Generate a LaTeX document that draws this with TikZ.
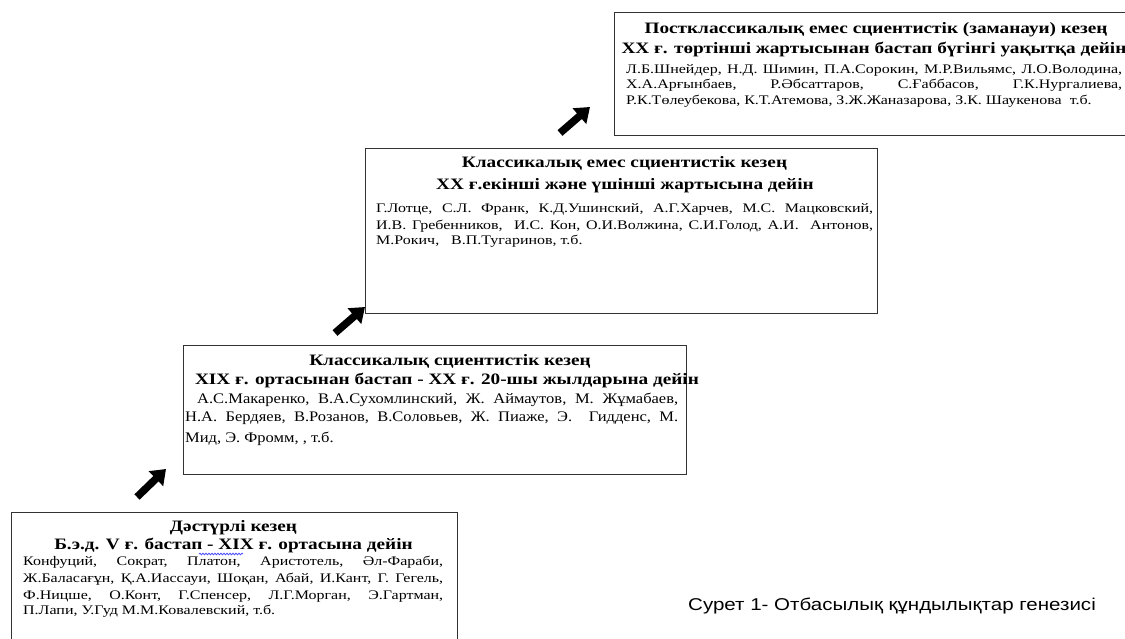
\documentclass[tikz,border=0pt]{standalone}
\usepackage{fontspec}
\usetikzlibrary{arrows.meta,decorations.pathmorphing}
\setmainfont{Liberation Serif}
\newfontfamily\tfont[FakeStretch=1.21]{Liberation Serif}
\newfontfamily\bfont[FakeStretch=1.22]{Liberation Serif}
\newfontfamily\sfont[FakeStretch=1.13]{Liberation Serif}
\newfontfamily\cfont[FakeStretch=1.2]{Liberation Sans}
\newcommand\jl[2]{\hbox to #1pt{#2}}
\begin{document}
\begin{tikzpicture}[x=1pt,y=-1pt,
  box/.style={draw=black!80, line width=1.4pt, inner sep=0pt, anchor=north west},
  ttl/.style={font=\tfont\bfseries\fontsize{15.9}{18}\selectfont, anchor=base, inner sep=0pt},
  bd/.style={font=\bfont\frenchspacing\fontsize{13.1}{15}\selectfont, anchor=base west, inner sep=0pt},
  bdl/.style={font=\sfont\frenchspacing\fontsize{14.6}{16}\selectfont, anchor=base west, inner sep=0pt},
  blk/.style={line width=7.5pt, -{Triangle[length=14pt,width=20pt]}},
  capt/.style={font=\cfont\fontsize{17.1}{20}\selectfont, anchor=base west, inner sep=0pt}]
\useasboundingbox (0,0) rectangle (1125,639);
% boxes
\node[box, minimum width=520pt, minimum height=123pt] (B1) at (614,12) {};
\node[box, minimum width=512pt, minimum height=165pt] (B2) at (365,148) {};
\node[box, minimum width=503pt, minimum height=129pt] (B3) at (183,345) {};
\node[box, minimum width=446pt, minimum height=135pt] (B4) at (11,512) {};
% box 1
\node[ttl] (t11) at (876,34) {Постклассикалық емес сциентистік (заманауи) кезең};
\node[ttl] (t12) at (874,54) {XX ғ. төртінші жартысынан бастап бүгінгі уақытқа дейін};
\node[bd] (p11) at (626,74) {\jl{496}{Л.Б.Шнейдер, Н.Д. Шимин, П.А.Сорокин, М.Р.Вильямс, Л.О.Володина,}};
\node[bd] (p12) at (626,89) {\jl{496}{Х.А.Арғынбаев, Р.Әбсаттаров, С.Ғаббасов, Г.К.Нургалиева,}};
\node[bd] (p13) at (626,105) {Р.К.Төлеубекова, К.Т.Атемова, З.Ж.Жаназарова, З.К. Шаукенова\ \ т.б.};
% box 2
\node[ttl] (t21) at (624.5,168) {Классикалық емес сциентистік кезең};
\node[ttl] (t22) at (625,190) {XX ғ.екінші және үшінші жартысына дейін};
\node[bd] (p21) at (376,213) {\jl{497}{Г.Лотце, С.Л. Франк, К.Д.Ушинский, А.Г.Харчев, М.С. Мацковский,}};
\node[bd] (p22) at (376,230) {\jl{497}{И.В. Гребенников,\ \ И.С. Кон, О.И.Волжина, С.И.Голод, А.И.\ \ Антонов,}};
\node[bd] (p23) at (376,245) {М.Рокич,\ \ \ В.П.Тугаринов, т.б.};
% box 3
\node[ttl] (t31) at (450,365) {Классикалық сциентистік кезең};
\node[ttl] (t32) at (447,384) {XIX ғ. ортасынан бастап - XX ғ. 20-шы жылдарына дейін};
\node[bdl] (p31) at (197,403) {\jl{481}{А.С.Макаренко, В.А.Сухомлинский, Ж. Аймаутов, М. Жұмабаев,}};
\node[bdl] (p32) at (185,421) {\jl{493}{Н.А. Бердяев, В.Розанов, В.Соловьев, Ж. Пиаже, Э.\ \ Гидденс, М.}};
\node[bdl] (p33) at (185,442) {Мид, Э. Фромм, , т.б.};
% box 4
\node[ttl] (t41) at (233.5,531) {Дәстүрлі кезең};
\node[ttl] (t42) at (233.5,549) {Б.э.д. V ғ. бастап - XIX ғ. ортасына дейін};
\node[bd] (p41) at (23,565) {\jl{420}{Конфуций, Сократ, Платон, Аристотель, Әл-Фараби,}};
\node[bd] (p42) at (23,582) {\jl{420}{Ж.Баласағұн, Қ.А.Иассауи, Шоқан, Абай, И.Кант, Г. Гегель,}};
\node[bd] (p43) at (23,599) {\jl{420}{Ф.Ницше, О.Конт, Г.Спенсер, Л.Г.Морган, Э.Гартман,}};
\node[bd] (p44) at (23,614) {П.Лапи, У.Гуд М.М.Ковалевский, т.б.};
\coordinate (w1) at (199,554);
\coordinate (w2) at (243,554);
\draw[blue!70, line width=0.8pt, decorate, decoration={snake, amplitude=0.8pt, segment length=3pt}] (w1) -- (w2);
% arrows
\coordinate (a1s) at (137,497); \coordinate (a1e) at (166,469);
\coordinate (a2s) at (335,333); \coordinate (a2e) at (365,307);
\coordinate (a3s) at (560,133); \coordinate (a3e) at (590,107);
\draw[blk] (a1s) -- (a1e);
\draw[blk] (a2s) -- (a2e);
\draw[blk] (a3s) -- (a3e);
% caption
\node[capt] (cap) at (688,610) {Сурет 1- Отбасылық құндылықтар генезисі};
\end{tikzpicture}
\end{document}
